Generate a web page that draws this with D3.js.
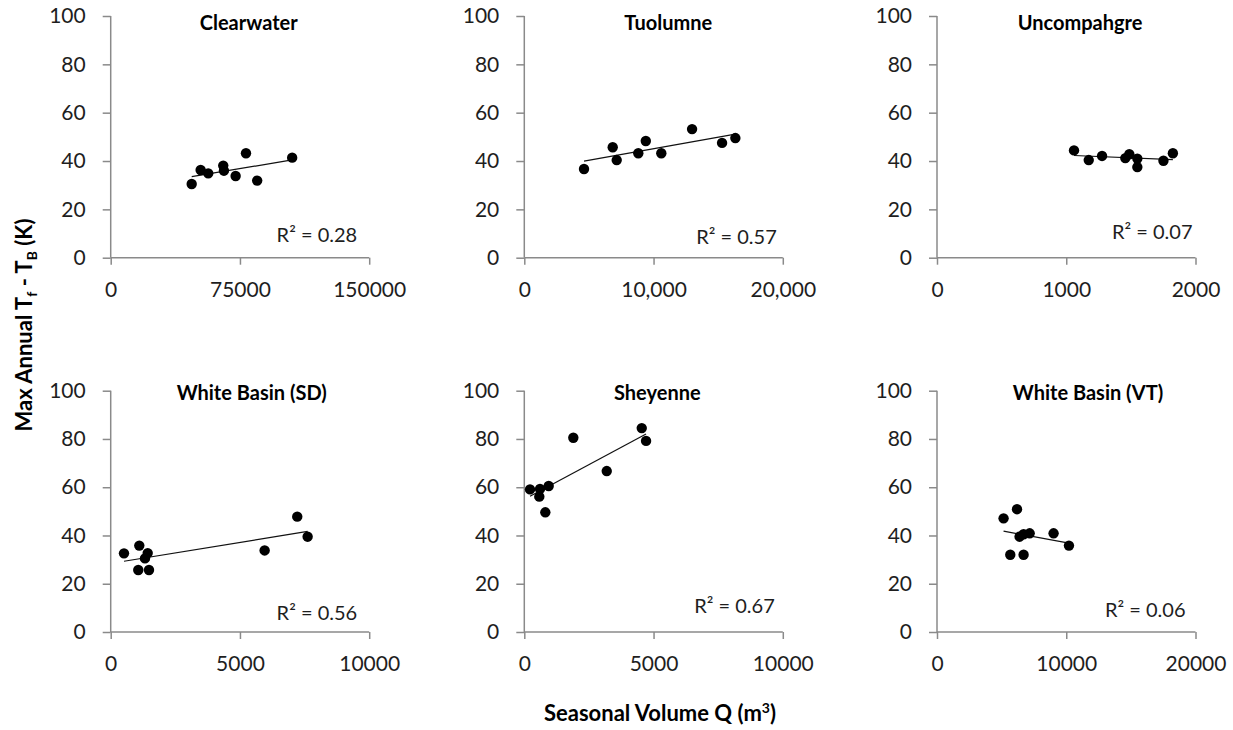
<!DOCTYPE html>
<html>
<head>
<meta charset="utf-8">
<script src="https://cdn.jsdelivr.net/npm/d3@7"></script>
<style>
  body { margin: 0; background: #fff; }
  text { font-family: Lato, "Open Sans", sans-serif; }
</style>
</head>
<body>
<div id="chart"></div>
<script>

// values
var sites = ["Clearwater", "Tuolumne", "Uncompahgre", "White Basin (SD)", "Sheyenne", "White Basin (VT)"];
var rSquared = ["0.28", "0.57", "0.07", "0.56", "0.67", "0.06"];

var clearwaterQ = [47000, 52200, 56600, 65300, 65700, 72500, 78500, 85000, 105300];
var clearwaterT = [30.5, 36.3, 34.9, 38.1, 36.0, 33.8, 43.2, 31.9, 41.4];

var tuolumneQ = [4620, 6840, 7150, 8820, 9400, 10600, 12980, 15300, 16330];
var tuolumneT = [36.7, 45.7, 40.4, 43.2, 48.3, 43.2, 53.2, 47.5, 49.5];

var uncompahgreQ = [1060, 1174, 1277, 1457, 1488, 1550, 1550, 1752, 1825];
var uncompahgreT = [44.4, 40.4, 42.1, 41.2, 42.8, 41.0, 37.5, 40.1, 43.2];

var whiteSDQ = [514, 1106, 1067, 1326, 1431, 1481, 5955, 7216, 7618];
var whiteSDT = [32.6, 35.8, 25.7, 30.5, 32.7, 25.7, 33.8, 47.8, 39.5];

var sheyenneQ = [221, 608, 580, 813, 944, 1896, 3189, 4543, 4710];
var sheyenneT = [59.1, 59.3, 56.1, 49.6, 60.5, 80.5, 66.7, 84.5, 79.2];

var whiteVTQ = [5150, 6190, 5670, 6700, 6390, 6700, 7170, 9020, 10210];
var whiteVTT = [47.1, 50.9, 32.0, 32.0, 39.5, 40.5, 40.9, 40.9, 35.8];

var xDomains = [[0, 150000], [0, 20000], [0, 2000], [0, 10000], [0, 10000], [0, 20000]];
var xTickValues = [[0, 75000, 150000], [0, 10000, 20000], [0, 1000, 2000],
                   [0, 5000, 10000], [0, 5000, 10000], [0, 10000, 20000]];
var xTickFormats = ["d", ",", "d", "d", "d", "d"];
var yTickValues = [0, 20, 40, 60, 80, 100];

var seriesQ = [clearwaterQ, tuolumneQ, uncompahgreQ, whiteSDQ, sheyenneQ, whiteVTQ];
var seriesT = [clearwaterT, tuolumneT, uncompahgreT, whiteSDT, sheyenneT, whiteVTT];

// layout
var W = 1233, H = 730;
var colLeft = [110.7, 524.3, 937];
var plotW = 258.5;
var rows = [{ top: 16, bottom: 257.7, titleY: 30 }, { top: 390.7, bottom: 632, titleY: 400 }];
var titleDx = [138, 144, 143, 141, 133, 151];
// R² label: offset of right edge from plot right, baseline from plot bottom
var rLabelPos = [[-12, -16], [-6, -14], [-3, -19], [-12, -12], [-8, -19], [-10, -15]];

var axisColor = "#8a8a8a";
var textColor = "#1e1e1e";

var svg = d3.select("#chart").append("svg")
    .attr("width", W)
    .attr("height", H);

function linearFit(xs, ys) {
    var mx = d3.mean(xs), my = d3.mean(ys);
    var num = d3.sum(xs, function(x, i) { return (x - mx) * (ys[i] - my); });
    var den = d3.sum(xs, function(x) { return (x - mx) * (x - mx); });
    var b = num / den;
    return { slope: b, intercept: my - b * mx };
}

sites.forEach(function(site, i) {
    var row = rows[Math.floor(i / 3)];
    var left = colLeft[i % 3];

    var x = d3.scaleLinear().domain(xDomains[i]).range([left, left + plotW]);
    var y = d3.scaleLinear().domain([0, 100]).range([row.bottom, row.top]);

    var g = svg.append("g").attr("class", "panel");

    // y axis
    var yAxis = g.append("g")
        .attr("transform", "translate(" + left + ",0)")
        .call(d3.axisLeft(y).tickValues(yTickValues).tickSize(8).tickPadding(17));

    // x axis
    var xAxis = g.append("g")
        .attr("transform", "translate(0," + row.bottom + ")")
        .call(d3.axisBottom(x).tickValues(xTickValues[i]).tickSize(7).tickPadding(17)
            .tickFormat(d3.format(xTickFormats[i])));

    [yAxis, xAxis].forEach(function(ax) {
        ax.select(".domain").attr("stroke", axisColor).attr("stroke-width", 1.5);
        ax.selectAll(".tick line").attr("stroke", axisColor).attr("stroke-width", 1.5);
        ax.selectAll(".tick text")
            .attr("fill", textColor)
            .style("font-size", "21px");
    });
    yAxis.select(".domain").attr("d", "M0," + row.top + "V" + row.bottom);
    xAxis.select(".domain").attr("d", "M" + left + ",0H" + (left + plotW));

    // trend line
    var xs = seriesQ[i], ys = seriesT[i];
    var fit = linearFit(xs, ys);
    var ext = d3.extent(xs);
    g.append("line")
        .attr("x1", x(ext[0]))
        .attr("y1", y(fit.intercept + fit.slope * ext[0]))
        .attr("x2", x(ext[1]))
        .attr("y2", y(fit.intercept + fit.slope * ext[1]))
        .attr("stroke", "#111")
        .attr("stroke-width", 1.2);

    // points
    g.selectAll("circle")
        .data(xs.map(function(q, k) { return { q: q, t: ys[k] }; }))
        .enter().append("circle")
        .attr("cx", function(d) { return x(d.q); })
        .attr("cy", function(d) { return y(d.t); })
        .attr("r", 5.2)
        .attr("fill", "#000");

    // title
    g.append("text")
        .attr("x", left + titleDx[i])
        .attr("y", row.titleY)
        .attr("text-anchor", "middle")
        .attr("fill", "#000")
        .style("font-size", "20px")
        .style("font-weight", "bold")
        .text(site);

    // R² label
    g.append("text")
        .attr("x", left + plotW + rLabelPos[i][0])
        .attr("y", row.bottom + rLabelPos[i][1])
        .attr("text-anchor", "end")
        .attr("fill", textColor)
        .style("font-size", "20px")
        .text("R\u00B2 = " + rSquared[i]);
});

// axis titles
var yTitle = svg.append("text")
    .attr("transform", "translate(32,325) rotate(-90)")
    .attr("text-anchor", "middle")
    .attr("fill", "#000")
    .style("font-size", "22px")
    .style("font-weight", "bold");
yTitle.append("tspan").text("Max Annual T");
yTitle.append("tspan").attr("dy", 5).style("font-size", "14px").text("f");
yTitle.append("tspan").attr("dy", -5).text(" - T");
yTitle.append("tspan").attr("dy", 5).style("font-size", "14px").text("B");
yTitle.append("tspan").attr("dy", -5).text(" (K)");

var xTitle = svg.append("text")
    .attr("x", 660)
    .attr("y", 721)
    .attr("text-anchor", "middle")
    .attr("fill", "#000")
    .style("font-size", "22px")
    .style("font-weight", "bold");
xTitle.append("tspan").text("Seasonal Volume Q (m");
xTitle.append("tspan").attr("dy", -8).style("font-size", "14px").text("3");
xTitle.append("tspan").attr("dy", 8).text(")");

</script>
</body>
</html>
